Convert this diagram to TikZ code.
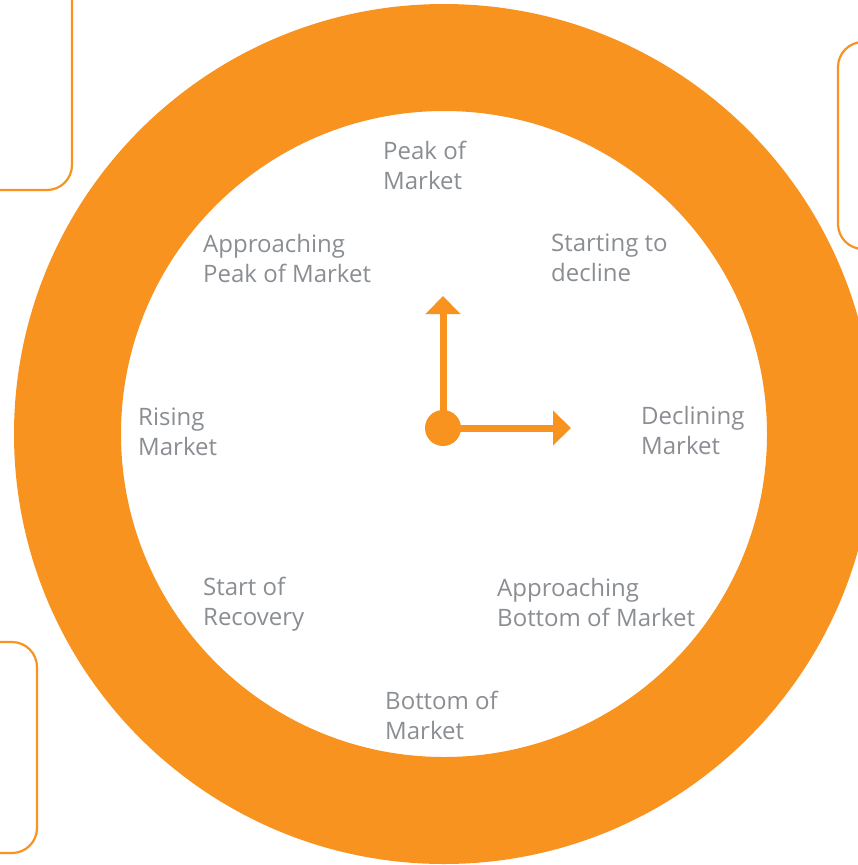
\documentclass[tikz,border=0pt]{standalone}
\usepackage{fontspec}
\setmainfont{Open Sans}
\usetikzlibrary{arrows.meta}
\definecolor{eyorange}{HTML}{F7931E}
\definecolor{eygrey}{HTML}{8A8D92}
\tikzset{
  lbl/.style={anchor=base west, inner sep=0pt, align=left, text=eygrey,
    font=\fontsize{24}{30}\selectfont},
  sidebox/.style={draw=eyorange, line width=2.2pt, rounded corners=25pt},
  hand/.style={draw=eyorange, line width=7pt, -{Triangle[length=18pt,width=34pt]}},
}
\begin{document}
\begin{tikzpicture}[x=1pt,y=-1pt]
\useasboundingbox (0,0) rectangle (858,865);
\clip (0,0) rectangle (858,865);
% side boxes
\path[sidebox] (-60,-60) rectangle (72,190);
\path[sidebox] (838,42) rectangle (960,249);
\path[sidebox] (-60,642) rectangle (37,853);
% ring
\fill[eyorange, even odd rule] (444,434) circle[radius=430] (444,434) circle[radius=323];
% labels (anchor = baseline of the last line)
\node[lbl] (peak) at (383,189) {Peak of\\Market};
\node[lbl] (appk) at (203,282) {Approaching\\Peak of Market};
\node[lbl] (start) at (551,281) {Starting to\\decline};
\node[lbl] (rise) at (138,455) {Rising\\Market};
\node[lbl] (decl) at (641,454) {Declining\\Market};
\node[lbl] (recov) at (203,625) {Start of\\Recovery};
\node[lbl] (apbt) at (497,626) {Approaching\\Bottom of Market};
\node[lbl] (bott) at (385,739) {Bottom of\\Market};
% clock
\node[circle, fill=eyorange, minimum size=36pt, inner sep=0pt] (hub) at (443,428) {};
\coordinate (up) at (443,296);
\coordinate (rt) at (571,428);
\draw[hand] (hub.center) -- (up);
\draw[hand] (hub.center) -- (rt);
\end{tikzpicture}
\end{document}
